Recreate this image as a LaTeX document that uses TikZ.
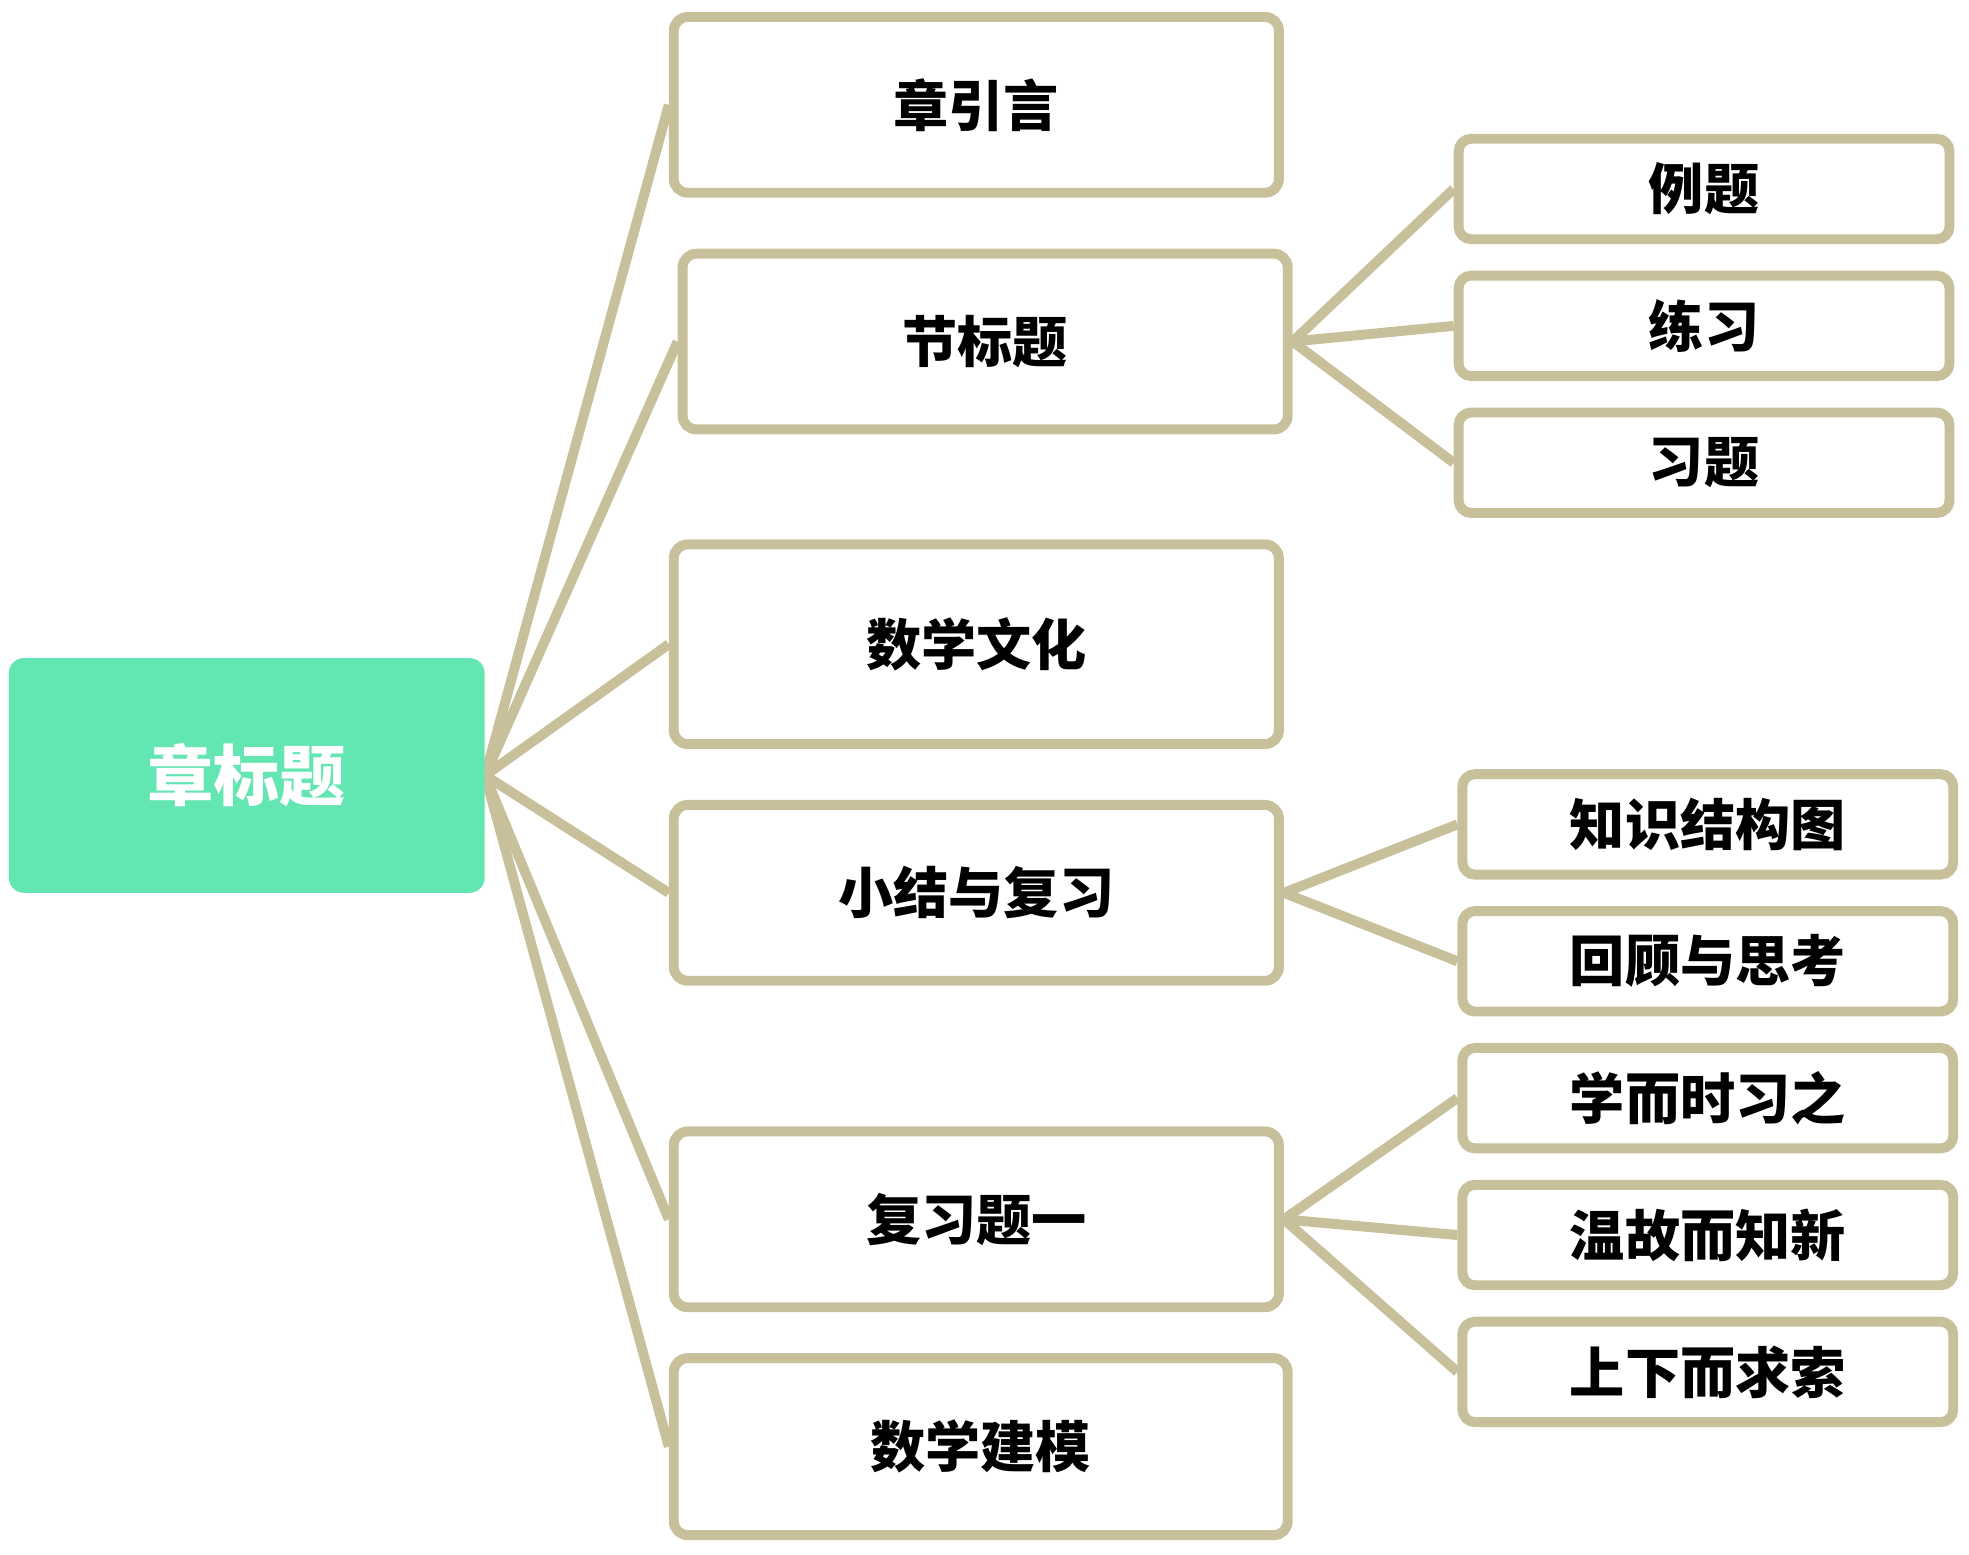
\documentclass[tikz,border=0pt]{standalone}
\usepackage{fontspec}
\newfontfamily\cjk{Noto Sans CJK SC Black}
\usetikzlibrary{backgrounds}
\definecolor{rootgreen}{HTML}{63E6B1}
\definecolor{linebeige}{HTML}{C8C09A}
\tikzset{
    rootbox/.style={fill=rootgreen, rounded corners=0.24cm, minimum width=7.58cm, minimum height=3.74cm, text=white, font=\cjk\fontsize{30}{36}\selectfont},
    midbox/.style={draw=linebeige, line width=4.5pt, fill=white, rounded corners=0.22cm, minimum width=9.64cm, minimum height=2.8cm, font=\cjk\fontsize{25}{30}\selectfont},
    leafbox/.style={midbox, minimum width=7.82cm, minimum height=1.6cm, rounded corners=0.2cm},
    link/.style={draw=linebeige, line width=4.5pt}
}
\begin{document}
\begin{tikzpicture}[x=0.02cm,y=-0.02cm]
    \useasboundingbox (0,0) rectangle (1568,1238);
    \node[rootbox] (root) at (196.5,617.5) {章标题};
    % middle column
    \node[midbox] (intro) at (777.5,83.5) {章引言};
    \node[midbox] (sect) at (784.5,272) {节标题};
    \node[midbox, minimum height=3.18cm] (culture) at (777.5,513) {数学文化};
    \node[midbox] (summary) at (777.5,711) {小结与复习};
    \node[midbox] (review) at (777.5,971) {复习题一};
    \node[midbox, minimum width=9.78cm, minimum height=2.82cm] (model) at (781,1152) {数学建模};
    % right column
    \foreach \t [count=\i] in {例题,练习,习题}
    {
        \node[leafbox] (sect\i) at (1357, 41.5+109*\i) {\t};
    }
    \foreach \t [count=\i] in {知识结构图,回顾与思考}
    {
        \node[leafbox] (summary\i) at (1360, 547.5+109*\i) {\t};
    }
    \foreach \t [count=\i] in {学而时习之,温故而知新,上下而求索}
    {
        \node[leafbox] (review\i) at (1360, 765.5+109*\i) {\t};
    }
    \begin{scope}[on background layer]
        \foreach \n in {intro,sect,culture,summary,review,model}
        {
            \draw[link] (root.east) -- (\n.west);
        }
        \foreach \i in {1,...,3}
        {
            \draw[link] (sect.east) -- (sect\i.west);
            \draw[link] (review.east) -- (review\i.west);
        }
        \foreach \i in {1,...,2}
        {
            \draw[link] (summary.east) -- (summary\i.west);
        }
    \end{scope}
\end{tikzpicture}
\end{document}
